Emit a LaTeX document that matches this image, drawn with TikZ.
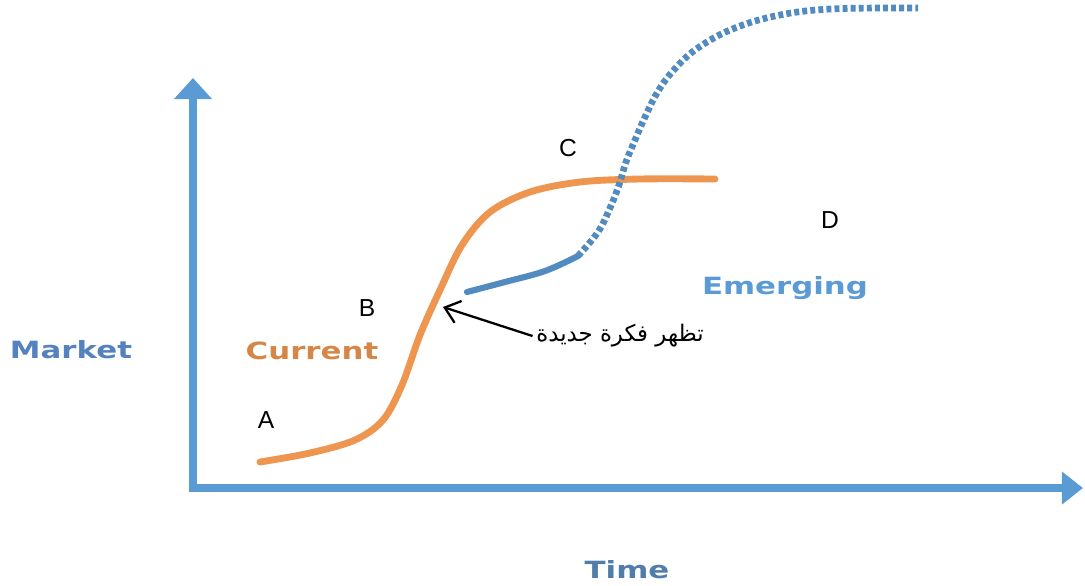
\documentclass[tikz,border=0pt]{standalone}
\usepackage{fontspec}
\setmainfont{Liberation Sans}
\newfontfamily\axisfont[FakeStretch=1.3]{DejaVu Sans}
\newfontfamily\arabicfont[Script=Arabic]{DejaVu Sans}
\TeXXeTstate=1
\usepackage{tikz}
\usetikzlibrary{arrows.meta}

\definecolor{axisblue}{RGB}{91,155,213}
\definecolor{curorange}{RGB}{238,150,80}
\definecolor{marketblue}{RGB}{84,130,190}
\definecolor{timeblue}{RGB}{80,125,170}

\begin{document}
\begin{tikzpicture}[
  x=0.02cm, y=-0.02cm,
  axis/.style={line width=4.5pt, color=axisblue,
               {Triangle[length=12pt,width=21pt]}-{Triangle[length=12pt,width=18pt]}},
  current/.style={line width=3.9pt, color=curorange, line cap=round},
  emerging/.style={line width=3.5pt, color=axisblue!90!black, line cap=round},
  dotline/.style={line width=3.8pt, color=axisblue!90!black,
                  dash pattern=on 2.8pt off 1.8pt},
  axlabel/.style={font=\axisfont\bfseries\fontsize{13.5}{15}\selectfont},
  letter/.style={font=\fontsize{14}{16}\selectfont},
]
\useasboundingbox (0,0) rectangle (1085,585);

% axes
\coordinate (o)    at (193,488);
\coordinate (ytip) at (193,78);
\coordinate (xtip) at (1083,488);
\draw[axis] (ytip) -- (o) -- (xtip);

\node[axlabel, text=marketblue] (market)   at (71,350)  {Market};
\node[axlabel, text=timeblue]   (time)     at (627,570) {Time};
\node[axlabel, text=curorange!90!black] (current) at (312,351) {Current};
\node[axlabel, text=axisblue]   (emerging) at (785,288) {Emerging};

% current curve
\draw[current] plot[smooth, tension=0.55] coordinates {
  (260,462) (310,453) (355,440) (383,420) (402,385) (420,335)
  (440,290) (462,245) (490,212) (530,192) (580,182) (640,179) (715,179)};

% emerging curve
\draw[emerging] plot[smooth, tension=0.6] coordinates {
  (467,292) (505,282) (545,271) (578,256)};
\draw[dotline] plot[smooth, tension=0.6] coordinates {
  (578,256) (598,232) (610,208) (619,185) (626,162) (635,140)
  (645,117) (657,93) (672,72) (695,50) (730,30) (775,16) (830,9) (918,8)};

% letters
\node[letter] (a) at (266,420) {A};
\node[letter] (b) at (367,308) {B};
\node[letter] (c) at (568,148) {C};
\node[letter] (d) at (830,220) {D};

% new idea
\node[font=\arabicfont\fontsize{13}{15}\selectfont, inner sep=2pt] (idea) at (620,336)
  {\beginR تظهر فكرة جديدة\endR};
\coordinate (hit) at (443,307);
\draw[line width=1.3pt, -{Straight Barb[length=8pt,width=13pt,line width=1.3pt]}]
  (idea.west) -- (hit);
\end{tikzpicture}
\end{document}
